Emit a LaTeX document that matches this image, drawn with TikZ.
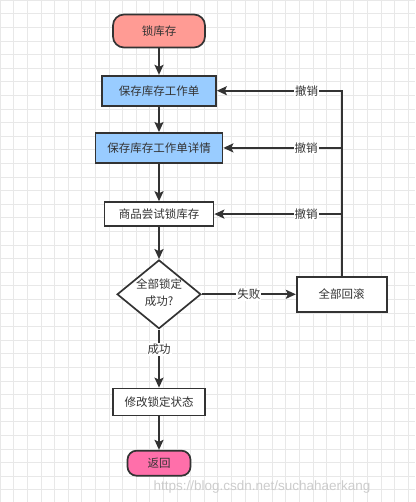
\documentclass[tikz,border=0pt]{standalone}
\usepackage{fontspec}
\setmainfont{Noto Sans CJK SC}
\newfontfamily\markfont{Liberation Sans}
\usepackage{xcolor}
\usetikzlibrary{matrix, shapes.geometric, arrows.meta}
\definecolor{lockred}{HTML}{FF9B94}
\definecolor{saveblue}{HTML}{99CCFF}
\definecolor{backpink}{HTML}{FF6FAA}
\definecolor{ink}{HTML}{333333}
\tikzset{
    box/.style={draw=ink, line width=1.7pt, rectangle, inner sep=0pt},
    term/.style={box, rounded corners=11pt},
    cond/.style={draw=ink, line width=1.7pt, diamond, aspect=1.22, inner sep=0pt},
    lbl/.style={fill=white, inner sep=1pt, text=ink},
    flow/.style={color=ink, line width=1.7pt, -{Stealth[length=10pt, width=9pt, inset=2pt]}},
}

\begin{document}
\begin{tikzpicture}[x=1pt, y=-1pt, font=\fontsize{11.5}{14}\selectfont, text=ink]
\useasboundingbox (0,0) rectangle (415,502);
\draw[black!9, line width=0.5pt] (0,0) grid[step=13.6pt] (415,502);
\matrix (m) [matrix of nodes, row sep=25.5pt, column sep=72.5pt, nodes={anchor=center}, anchor=m-1-1.center] at (159,31)
{%
    |[term, fill=lockred, minimum width=92pt, minimum height=33pt]| 锁库存 \\[1pt]
    |[box, fill=saveblue, minimum width=114pt, minimum height=30pt]| 保存库存工作单 \\
    |[box, fill=saveblue, minimum width=127pt, minimum height=30pt]| 保存库存工作单详情 \\[12pt]
    |[box, fill=white, minimum width=109pt, minimum height=24pt]| 商品尝试锁库存 \\[7pt]
    |[cond, fill=white, minimum width=80pt, minimum height=65pt]| \begin{tabular}{@{}c@{}}全部锁定\\[3pt]成功?\end{tabular} &
    |[box, fill=white, minimum width=90pt, minimum height=35pt]| 全部回滚 \\[33pt]
    |[box, fill=white, minimum width=92pt, minimum height=27pt]| 修改锁定状态 \\[8pt]
    |[term, fill=backpink, rounded corners=9pt, minimum width=63pt, minimum height=25pt]| 返回 \\
};
\path[flow]
(m-1-1) edge (m-2-1)
(m-2-1) edge (m-3-1)
(m-3-1) edge (m-4-1)
(m-4-1) edge (m-5-1)
(m-5-1) edge node [lbl] {失败} (m-5-2)
(m-5-1) edge node [lbl, pos=0.34] {成功} (m-6-1)
(m-6-1) edge (m-7-1);
\draw[flow] (m-5-2) |- node [lbl, pos=0.64] {撤销} (m-2-1);
\path[flow]
(m-5-2 |- m-3-1) edge node [lbl, pos=0.3] {撤销} (m-3-1)
(m-5-2 |- m-4-1) edge node [lbl, pos=0.28] {撤销} (m-4-1);
\node[text=black!20, font=\markfont\fontsize{13.5}{14}\selectfont, anchor=west] (mark) at (150,487) {https://blog.csdn.net/suchahaerkang};
\end{tikzpicture}
\end{document}
